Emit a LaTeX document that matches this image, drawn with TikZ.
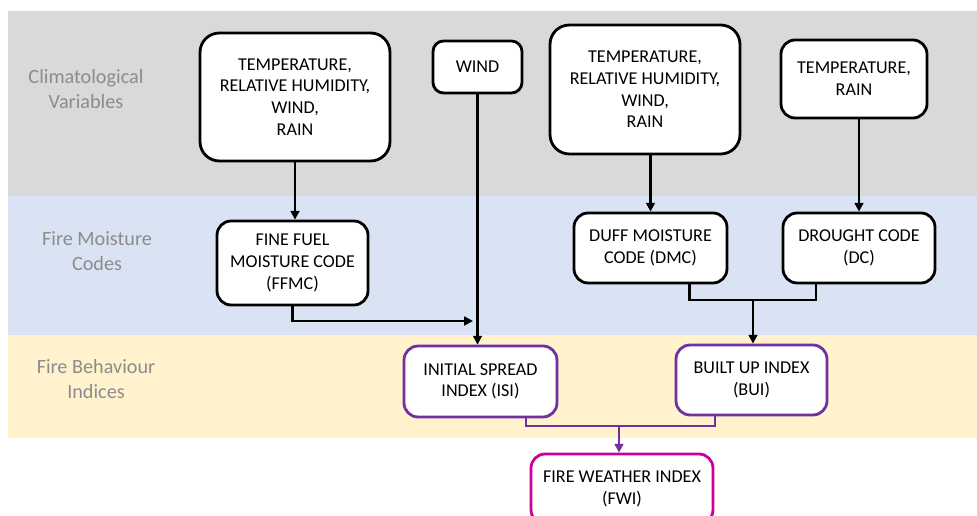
\documentclass[tikz,border=0pt]{standalone}
\usepackage{fontspec}
\setmainfont{Carlito}
\usetikzlibrary{positioning}
\usetikzlibrary{arrows.meta}
\definecolor{bandgray}{RGB}{217,217,217}
\definecolor{bandblue}{RGB}{218,227,243}
\definecolor{bandyellow}{RGB}{255,242,204}
\definecolor{labelgray}{RGB}{140,140,140}
\definecolor{indexpurple}{RGB}{112,48,160}
\definecolor{fwimagenta}{RGB}{204,0,153}
\tikzset{
box/.style={ % Sets the properties for each box
draw, fill=white,
line width=1.6pt,
align=center,
inner sep=2pt,
font=\fontsize{10.3}{12.3}\selectfont},
varbox/.style={box, rounded corners=11pt},
codebox/.style={box, rounded corners=8pt},
indexbox/.style={box, rounded corners=8pt, draw=indexpurple},
fwibox/.style={box, rounded corners=8pt, draw=fwimagenta},
bandlabel/.style={text=labelgray, align=center,
font=\fontsize{11.5}{14}\selectfont},
link/.style={draw, line width=1.4pt}, % plain connector
arr/.style={link, -{Triangle[length=5pt,width=5pt]}}}

\begin{document}
\begin{tikzpicture}[x=0.02cm, y=-0.02cm]
	\useasboundingbox (0,0) rectangle (977,516);
	% bands
	\fill[bandgray] (8,11) rectangle (977,196);
	\fill[bandblue] (8,196) rectangle (977,335);
	\fill[bandyellow] (8,335) rectangle (977,438);
	\node[bandlabel] (climlbl) at (86,89) {Climatological\\Variables};
	\node[bandlabel] (moistlbl) at (97,251) {Fire Moisture\\Codes};
	\node[bandlabel] (behavlbl) at (96,379) {Fire Behaviour\\Indices};
	% climatological variables
	\node[varbox, minimum width=3.8cm, minimum height=2.56cm] (climA) at (295,97) {TEMPERATURE,\\RELATIVE HUMIDITY,\\WIND,\\RAIN};
	\node[box, rounded corners=6pt, minimum width=1.78cm, minimum height=1.04cm] (wind) at (477.5,67) {WIND};
	\node[varbox, minimum width=3.8cm, minimum height=2.58cm] (climB) at (645,89.5) {TEMPERATURE,\\RELATIVE HUMIDITY,\\WIND,\\RAIN};
	\node[codebox, minimum width=2.92cm, minimum height=1.56cm] (climC) at (854,79) {TEMPERATURE,\\RAIN};
	% moisture codes
	\node[codebox, minimum width=3.02cm, minimum height=1.68cm] (ffmc) at (292.5,263) {FINE FUEL\\MOISTURE CODE\\(FFMC)};
	\node[codebox, minimum width=3.06cm, minimum height=1.4cm] (dmc) at (650.5,248) {DUFF MOISTURE\\CODE (DMC)};
	\node[codebox, minimum width=3.04cm, minimum height=1.4cm] (dc) at (859,248) {DROUGHT CODE\\(DC)};
	% behaviour indices
	\node[indexbox, minimum width=3.06cm, minimum height=1.42cm] (isi) at (480.5,381.5) {INITIAL SPREAD\\INDEX (ISI)};
	\node[indexbox, minimum width=3.02cm, minimum height=1.4cm] (bui) at (751.5,380) {BUILT UP INDEX\\(BUI)};
	\node[fwibox, minimum width=3.64cm, minimum height=1.4cm] (fwi) at (622,489) {FIRE WEATHER INDEX\\(FWI)};
	% connectors
	\coordinate (ffmcin) at (473,321);
	\coordinate (buijoin) at (753,300);
	\coordinate (fwijoin) at (619,426);
	\draw[arr] (climA.south) -- (climA.south |- ffmc.north);
	\draw[arr] (wind.south) -- (wind.south |- isi.north);
	\draw[arr] (ffmc.south) |- (ffmcin);
	\draw[arr] (dmc.north |- climB.south) -- (dmc.north);
	\draw[arr] (dc.north |- climC.south) -- (dc.north);
	\draw[link] ([xshift=0.78cm]dmc.south) |- (buijoin) -| ([xshift=-0.86cm]dc.south);
	\draw[arr] (buijoin) -- (buijoin |- bui.north);
	\draw[link, indexpurple] ([xshift=0.91cm]isi.south) |- (fwijoin) -| ([xshift=-0.73cm]bui.south);
	\draw[arr, indexpurple] (fwijoin) -- (fwijoin |- fwi.north);
\end{tikzpicture}
\end{document}
